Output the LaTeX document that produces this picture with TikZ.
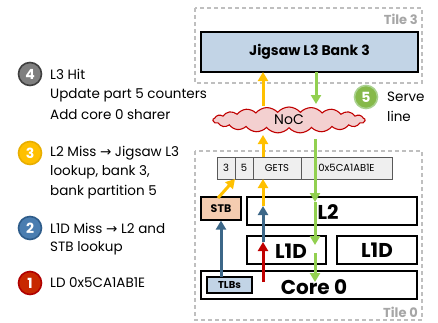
\documentclass[tikz,border=0pt]{standalone}
\usepackage{fontspec}
\setmainfont{Poppins}
\newfontfamily\symf{DejaVu Sans}
\usetikzlibrary{shapes.symbols,arrows.meta}
\definecolor{tilegray}{HTML}{BFBFBF}
\definecolor{tiletext}{HTML}{A6A6A6}
\definecolor{lblue}{HTML}{C2D4E6}
\definecolor{peach}{HTML}{F4CCB0}
\definecolor{cellgray}{HTML}{EFEFEF}
\definecolor{cellline}{HTML}{595959}
\definecolor{ayellow}{HTML}{FFC000}
\definecolor{agreen}{HTML}{92D050}
\definecolor{ablue}{HTML}{3C6788}
\definecolor{ared}{HTML}{C00000}
\definecolor{cloudfill}{HTML}{F3D0D0}
\definecolor{cloudline}{HTML}{C00000}
\definecolor{c4fill}{HTML}{7F7F7F}\definecolor{c4line}{HTML}{3F3F3F}
\definecolor{c3fill}{HTML}{FFC000}\definecolor{c3line}{HTML}{E8AE00}
\definecolor{c2fill}{HTML}{4A7DB0}\definecolor{c2line}{HTML}{2E5C8A}
\definecolor{c1fill}{HTML}{C82800}\definecolor{c1line}{HTML}{B00000}
\definecolor{c5fill}{HTML}{86B94A}\definecolor{c5line}{HTML}{A9D18E}
\tikzset{
  tilebox/.style={draw=tilegray, dashed, dash pattern=on 4pt off 3pt, line width=1.2pt},
  tilelabel/.style={text=tiletext, font=\bfseries\fontsize{13}{13}\selectfont, anchor=south east, inner sep=0pt},
  blockbox/.style={draw=black, line width=1.2pt, inner sep=0pt},
  cell/.style={draw=cellline, fill=cellgray, line width=0.9pt, inner sep=0pt, font=\fontsize{10}{10}\selectfont},
  bignum/.style={circle, minimum size=23pt, inner sep=0pt, line width=1.6pt, text=white, font=\bfseries\fontsize{14}{14}\selectfont},
  desc/.style={anchor=west, inner sep=0pt, font=\fontsize{13.5}{13.5}\selectfont},
  arr/.style={line width=3pt, -{Triangle[length=9pt,width=10pt]}},
  biglbl/.style={font=\bfseries\fontsize{20}{20}\selectfont, inner sep=0pt}
}
\begin{document}
\begin{tikzpicture}[x=1pt,y=-1pt]
\useasboundingbox (0,0) rectangle (438,322);
% tiles
\draw[tilebox] (195,8) rectangle (422,83);
\node[tilelabel] (t3) at (418,25) {Tile 3};
\draw[tilebox] (195,151) rectangle (422,320);
\node[tilelabel] (t0) at (418,318) {Tile 0};
% L3 bank
\node[blockbox, fill=lblue, minimum width=217pt, minimum height=40pt, font=\bfseries\fontsize{14}{14}\selectfont] (l3) at (309.5,52) {Jigsaw L3 Bank 3};
% NoC cloud
\node[cloud, cloud puffs=21, cloud puff arc=100, aspect=6, draw=cloudline, fill=cloudfill, line width=1.1pt, minimum width=152pt, minimum height=26pt, inner sep=0pt, font=\fontsize{14}{14}\selectfont] (noc) at (289,120) {NoC};
% request cells
\node[cell, minimum width=18pt, minimum height=22pt] (c3) at (226,168) {3};
\node[cell, minimum width=18pt, minimum height=22pt] (c5) at (244,168) {5};
\node[cell, minimum width=48pt, minimum height=22pt] (cg) at (277,168) {GETS};
\node[cell, minimum width=91pt, minimum height=22pt] (ca) at (346.5,168) {0x5CA1AB1E};
% core blocks
\node[blockbox, fill=peach, minimum width=40pt, minimum height=23pt, font=\bfseries\fontsize{11}{11}\selectfont] (stb) at (221,208.5) {STB};
\node[blockbox, fill=white, minimum width=170pt, minimum height=28pt] (l2) at (332,211) {};
\node[biglbl] (l2t) at (328,212) {L2};
\node[blockbox, fill=white, minimum width=79pt, minimum height=28pt] (l1a) at (286.5,250) {};
\node[biglbl] (l1at) at (291,251) {L1D};
\node[blockbox, biglbl, fill=white, minimum width=80pt, minimum height=28pt] (l1b) at (377,250) {L1D};
\node[blockbox, fill=white, minimum width=216pt, minimum height=28pt] (core) at (309,285) {};
\node[biglbl] (coret) at (314,287) {Core 0};
\node[blockbox, fill=lblue, minimum width=45pt, minimum height=16pt, font=\bfseries\fontsize{10}{10}\selectfont] (tlb) at (229.5,285) {TLBs};
% arrow coordinates
\coordinate (ya1) at (263,106);
\coordinate (ya1e) at (263,72);
\coordinate (ya2) at (263,157);
\coordinate (ya2e) at (263,135);
\coordinate (ya3) at (263,206);
\coordinate (ya3e) at (263,179);
\coordinate (stbc) at (218,198);
\coordinate (c35) at (235,179);
\coordinate (ga1) at (316,72);
\coordinate (ga1e) at (316,104);
\coordinate (ga2) at (315,139);
\coordinate (ga2e) at (315,202);
\coordinate (ga3e) at (315,245);
\coordinate (ga4) at (315,253);
\coordinate (ga4e) at (315,282);
\coordinate (ba1) at (263,242);
\coordinate (ba1e) at (263,206);
\coordinate (ba2) at (221,277);
\coordinate (ra1) at (263,282);
\coordinate (ra1e) at (263,242);
% arrows
\draw[arr, ayellow] (ya1) -- (ya1e);
\draw[arr, ayellow] (ya2) -- (ya2e);
\draw[arr, ayellow] (ya3) -- (ya3e);
\draw[arr, ayellow] (stbc) -- (c35);
\draw[arr, agreen] (ga1) -- (ga1e);
\draw[arr, agreen] (ga2) -- (ga2e);
\draw[arr, agreen] (ga2e) -- (ga3e);
\draw[arr, agreen] (ga4) -- (ga4e);
\draw[arr, ablue] (ba1) -- (ba1e);
\draw[arr, ablue] (ba2) -- (stb.south);
\draw[arr, ared] (ra1) -- (ra1e);
% step circles
\node[bignum, fill=c4fill, draw=c4line] (n4) at (30,74) {4};
\node[bignum, fill=c3fill, draw=c3line] (n3) at (30,153) {3};
\node[bignum, fill=c2fill, draw=c2line] (n2) at (30,228) {2};
\node[bignum, fill=c1fill, draw=c1line] (n1) at (30,283) {1};
\node[bignum, fill=c5fill, draw=c5line] (n5) at (366,97) {5};
% descriptions
\node[desc] (d4a) at (50,74) {L3 Hit};
\node[desc] (d4b) at (50,95) {Update part 5 counters};
\node[desc] (d4c) at (50,115) {Add core 0 sharer};
\node[desc] (d3a) at (50,153) {L2 Miss {\symf →} Jigsaw L3};
\node[desc] (d3b) at (50,172) {lookup, bank 3,};
\node[desc] (d3c) at (50,192) {bank partition 5};
\node[desc] (d2a) at (50,228) {L1D Miss {\symf →} L2 and};
\node[desc] (d2b) at (50,248) {STB lookup};
\node[desc] (d1a) at (50,283) {LD 0x5CA1AB1E};
\node[desc] (d5a) at (387,97) {Serve};
\node[desc] (d5b) at (387,116) {line};
\end{tikzpicture}
\end{document}
